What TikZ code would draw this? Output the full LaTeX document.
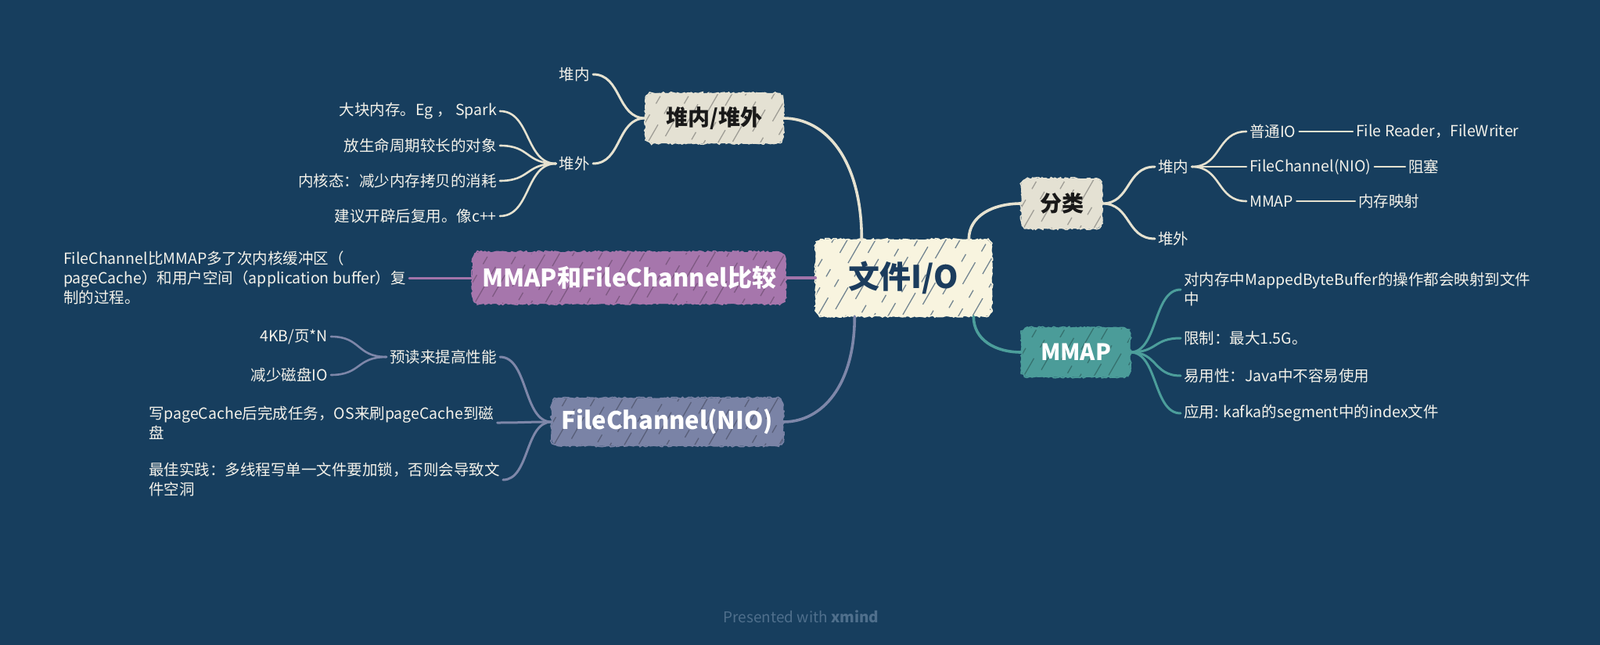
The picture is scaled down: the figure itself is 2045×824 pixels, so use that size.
\documentclass[tikz,border=0pt]{standalone}
\usepackage{fontspec}
\setmainfont{Noto Sans CJK SC}
\usetikzlibrary{calc,decorations.pathmorphing}
\definecolor{bg}{HTML}{173E5E}
\definecolor{cream}{HTML}{F8F4DF}
\definecolor{navy}{HTML}{1B3C5D}
\definecolor{beige}{HTML}{E4E1D3}
\definecolor{beigeln}{HTML}{E6E2D0}
\definecolor{purp}{HTML}{A676AC}
\definecolor{purpln}{HTML}{A274AA}
\definecolor{slate}{HTML}{7A83A6}
\definecolor{slateln}{HTML}{7E87A9}
\definecolor{teal}{HTML}{4B9C99}
\definecolor{tealln}{HTML}{4C9E9B}
\definecolor{txtc}{HTML}{F4F2EA}
\definecolor{footc}{HTML}{4F6F8C}
\begin{document}
\begin{tikzpicture}[x=1pt,y=-1pt,
  txt/.style={text=txtc, font=\fontsize{19.5}{25}\selectfont, inner sep=4pt},
  box/.style={rounded corners=9pt, inner sep=0pt, fill=#1,
    postaction={draw=#1, sharp corners, line width=1.6pt, decorate,
      decoration={random steps, segment length=2.5pt, amplitude=1.3pt}}},
  hatch/.style={path picture={
    \foreach \i [evaluate=\i as \ph using {mod(abs(\i)*13,83)}] in {-90,-72,...,420}
      \draw[#1, line width=1.3pt, dash pattern=on 32pt off 16pt on 11pt off 24pt, dash phase=\ph pt]
        ($(path picture bounding box.south west)+(\i,4)$) -- ++(72,-125);}},
  hc/.style={to path={let \p1=(\tikztostart), \p2=(\tikztotarget) in
    .. controls ($(\p1)!0.55!(\x2,\y1)$) and ($(\p2)!0.55!(\x1,\y2)$) .. (\tikztotarget)}},
  vh/.style={to path={let \p1=(\tikztostart), \p2=(\tikztotarget) in
    .. controls ($(\p1)!0.65!(\x1,\y2)$) and ($(\p2)!0.55!(\x1,\y2)$) .. (\tikztotarget)}},
  bl/.style={draw=beigeln, line width=#1, line cap=round},
  pl/.style={draw=purpln, line width=#1, line cap=round},
  sl/.style={draw=slateln, line width=#1, line cap=round},
  tl/.style={draw=tealln, line width=#1, line cap=round},
]
\fill[bg] (0,0) rectangle (2045,824);

% boxes
\node[box=cream, hatch={navy, opacity=0.6}, text=navy, minimum width=225pt, minimum height=98pt,
  font=\fontsize{40}{40}\selectfont\bfseries] (c) at (1155,355) {文件I/O};
\node[box=beige, hatch={black!70, opacity=0.45}, text=black!90, minimum width=176pt, minimum height=64pt,
  font=\fontsize{28}{28}\selectfont\bfseries] (hh) at (913,151) {堆内/堆外};
\node[box=purp, hatch={purp!60!black, opacity=0.6}, text=white, minimum width=400pt, minimum height=66pt,
  font=\fontsize{31}{31}\selectfont\bfseries] (cmp) at (804,355) {MMAP和FileChannel比较};
\node[box=slate, hatch={slate!55!black, opacity=0.6}, text=white, minimum width=296pt, minimum height=61pt,
  font=\fontsize{31}{31}\selectfont\bfseries] (fc) at (853,539) {FileChannel(NIO)};
\node[box=beige, hatch={black!70, opacity=0.45}, text=black!90, minimum width=103pt, minimum height=64pt,
  font=\fontsize{28}{28}\selectfont\bfseries] (cls) at (1357,260) {分类};
\node[box=teal, hatch={teal!55!black, opacity=0.6}, text=white, minimum width=139pt, minimum height=63pt,
  font=\fontsize{29}{29}\selectfont\bfseries] (mm) at (1375,450) {MMAP};

% anchor points on central node
\coordinate (cT1) at ($(c.north west)+(59,0)$);
\coordinate (cT2) at ($(c.north west)+(196,0)$);
\coordinate (cB1) at ($(c.south west)+(50,0)$);
\coordinate (cB2) at ($(c.south west)+(202,0)$);

% left top tree
\node[txt, anchor=east] (lhin) at (758,95) {堆内};
\node[txt, anchor=east] (lhout) at (758,209) {堆外};
\node[txt, anchor=east] (l1) at (639,142) {大块内存。Eg ， Spark};
\node[txt, anchor=east] (l2) at (639,186) {放生命周期较长的对象};
\node[txt, anchor=east] (l3) at (639,231) {内核态：减少内存拷贝的消耗};
\node[txt, anchor=east] (l4) at (639,276) {建议开辟后复用。像c++};

% comparison child
\node[txt, anchor=west, align=left] (cmpt) at (77,355)
  {FileChannel比MMAP多了次内核缓冲区（\\pageCache）和用户空间（application buffer）复\\制的过程。};

% FileChannel tree
\node[txt, anchor=east] (pre) at (639,456) {预读来提高性能};
\node[txt, anchor=east] (pg) at (423,430) {4KB/页*N};
\node[txt, anchor=east] (dk) at (423,479) {减少磁盘IO};
\node[txt, anchor=west, align=left] (wr) at (186,540) {写pageCache后完成任务，OS来刷pageCache到磁\\盘};
\node[txt, anchor=west, align=left] (bp) at (186,613) {最佳实践：多线程写单一文件要加锁，否则会导致文\\件空洞};

% classification tree
\node[txt, anchor=west] (rin) at (1476,213) {堆内};
\node[txt, anchor=west] (rout) at (1476,305) {堆外};
\node[txt, anchor=west] (pt) at (1593,168) {普通IO};
\node[txt, anchor=west] (fn) at (1593,213) {FileChannel(NIO)};
\node[txt, anchor=west] (mp) at (1593,257) {MMAP};
\node[txt, anchor=west] (frw) at (1729,168) {File Reader，FileWriter};
\node[txt, anchor=west] (zs) at (1796,213) {阻塞};
\node[txt, anchor=west] (ncys) at (1732,257) {内存映射};

% MMAP tree
\node[txt, anchor=west, align=left] (m1) at (1509,370) {对内存中MappedByteBuffer的操作都会映射到文件\\中};
\node[txt, anchor=west] (m2) at (1509,432) {限制：最大1.5G。};
\node[txt, anchor=west] (m3) at (1509,480) {易用性：Java中不容易使用};
\node[txt, anchor=west] (m4) at (1509,528) {应用: kafka的segment中的index文件};

% footer
\node[text=footc, font=\fontsize{19}{19}\selectfont, inner sep=0pt] (ft) at (1024,788) {Presented with \textbf{xmind}};

% connectors: main
\draw[bl=3.6pt] (cT1) to[vh] (hh.east);
\draw[bl=3.6pt] (cT2) to[vh] (cls.west);
\draw[sl=3.6pt] (cB1) to[vh] (fc.east);
\draw[tl=3.6pt] (cB2) to[vh] (mm.west);
\draw[pl=3.6pt] (c.west) -- (cmp.east);

% heap tree
\draw[bl=3pt] (hh.west) to[hc] (lhin.east);
\draw[bl=3pt] (hh.west) to[hc] (lhout.east);
\foreach \k in {l1,l2,l3,l4} \draw[bl=2.6pt] (lhout.west) to[hc] (\k.east);

% compare
\draw[pl=3pt] (cmp.west) -- (cmpt.east);

% FileChannel tree
\foreach \k in {pre,wr,bp} \draw[sl=3pt] (fc.west) to[hc] (\k.east);
\foreach \k in {pg,dk} \draw[sl=2.6pt] (pre.west) to[hc] (\k.east);

% classification tree
\draw[bl=3pt] (cls.east) to[hc] (rin.west);
\draw[bl=3pt] (cls.east) to[hc] (rout.west);
\foreach \k in {pt,fn,mp} \draw[bl=2.6pt] (rin.east) to[hc] (\k.west);
\draw[bl=2.4pt] (pt.east) -- (frw.west);
\draw[bl=2.4pt] (fn.east) -- (zs.west);
\draw[bl=2.4pt] (mp.east) -- (ncys.west);

% MMAP tree
\foreach \k in {m1,m2,m3,m4} \draw[tl=3pt] (mm.east) to[hc] (\k.west);
\end{tikzpicture}
\end{document}
